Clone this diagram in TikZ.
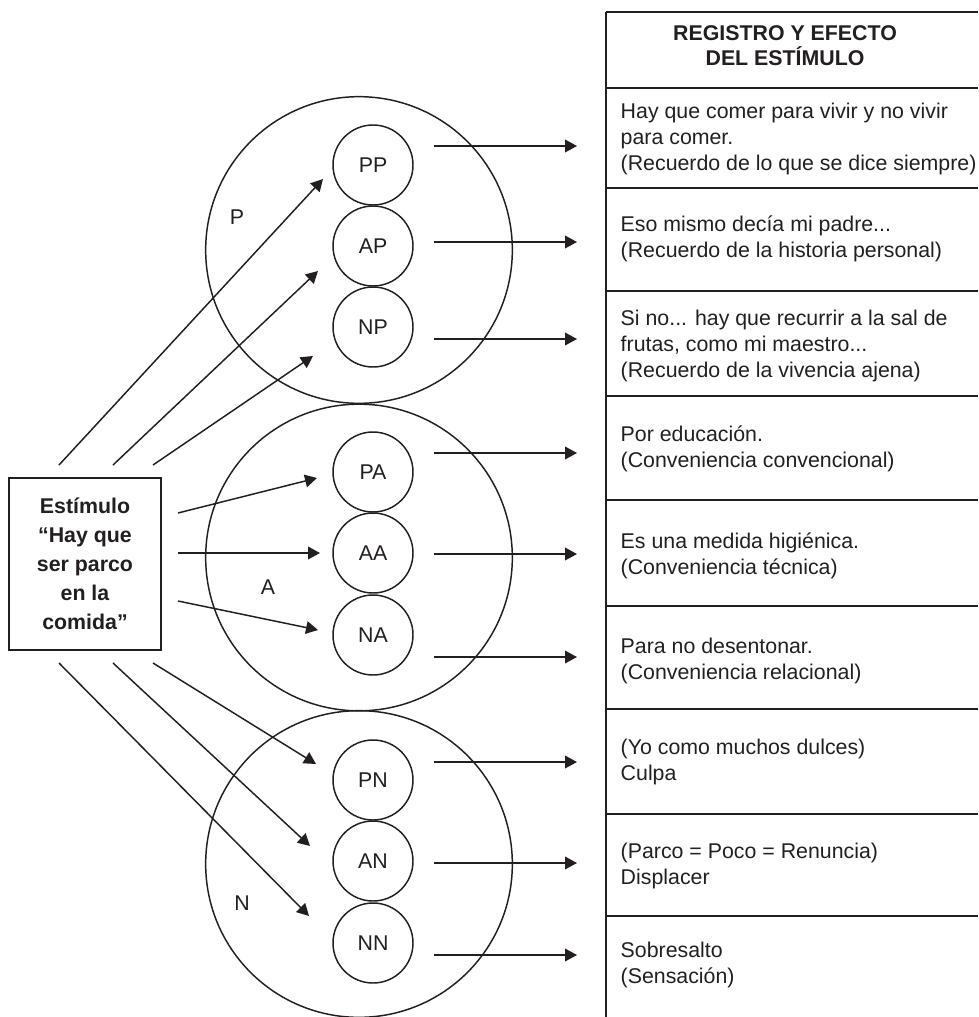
\documentclass[tikz,border=0pt]{standalone}
\usepackage{fontspec}
\setmainfont{Liberation Sans}
\usetikzlibrary{arrows.meta}
\definecolor{ink}{HTML}{231F20}
\begin{document}
\begin{tikzpicture}[x=0.75pt,y=-0.75pt,
  line width=1.1pt,
  arr/.style={-{Triangle[length=9pt,width=9.5pt]},draw=ink,fill=ink,line width=1.1pt},
  group/.style={circle,draw=ink,minimum size=230pt,inner sep=0pt},
  cell/.style={circle,draw=ink,minimum size=60pt,inner sep=0pt,text=ink,
    font=\fontsize{16}{19}\selectfont},
  tag/.style={text=ink,inner sep=0pt,font=\fontsize{16}{19}\selectfont},
  rowtext/.style={anchor=west,align=left,inner sep=0pt,text=ink,
    font=\fontsize{16}{19.5}\selectfont},
  headtext/.style={align=center,inner sep=0pt,text=ink,
    font=\bfseries\fontsize{16}{18.75}\selectfont},
  stimbox/.style={rectangle,draw=ink,minimum width=114pt,minimum height=129pt,
    inner sep=0pt,align=center,text=ink,font=\bfseries\fontsize{16}{21.75}\selectfont},
  rule/.style={draw=ink,line width=1.3pt}
]
\useasboundingbox (0,0) rectangle (978,1017);

% the three groups
\node[group] (gP) at (359,250) {};
\node[group] (gA) at (359,557.5) {};
\node[group] (gN) at (359,864) {};
\node[tag] (lP) at (237,217) {P};
\node[tag] (lA) at (268,587) {A};
\node[tag] (lN) at (242,903) {N};

% the nine cells
\node[cell] (PP) at (373,165) {PP};
\node[cell] (AP) at (373,246) {AP};
\node[cell] (NP) at (373,327) {NP};
\node[cell] (PA) at (373,472) {PA};
\node[cell] (AA) at (373,553) {AA};
\node[cell] (NA) at (373,635) {NA};
\node[cell] (PN) at (373,780) {PN};
\node[cell] (AN) at (373,861) {AN};
\node[cell] (NN) at (373,943) {NN};

% stimulus
\node[stimbox] (stim) at (85,564) {Estímulo\\“Hay que\\ser parco\\en la\\comida”};

% stimulus arrows: start and end points
\coordinate (s1) at (59,465);  \coordinate (e1) at (323,179);
\coordinate (s2) at (113,465); \coordinate (e2) at (318,271);
\coordinate (s3) at (153,465); \coordinate (e3) at (313,356);
\coordinate (s4) at (178,513); \coordinate (e4) at (317,478);
\coordinate (s5) at (178,553); \coordinate (e5) at (320,553);
\coordinate (s6) at (178,601); \coordinate (e6) at (318,630);
\coordinate (s7) at (153,663); \coordinate (e7) at (316,764);
\coordinate (s8) at (113,663); \coordinate (e8) at (310,846);
\coordinate (s9) at (59,663);  \coordinate (e9) at (309,916);
\foreach \i in {1,...,9} \draw[arr] (s\i) -- (e\i);

% table of effects
\draw[rule] (606,12) -- (606,1017);
\foreach \y in {12,88,188,291,396,500,606,709,814,916}
  \draw[rule] (606,\y) -- (978,\y);

\node[headtext] (head) at (785,45.5) {REGISTRO Y EFECTO\\DEL ESTÍMULO};
\node[rowtext] (r1) at (620,139) {Hay que comer para vivir y no vivir\\para comer.\\(Recuerdo de lo que se dice siempre)};
\node[rowtext] (r2) at (620,239) {Eso mismo decía mi padre...\\(Recuerdo de la historia personal)};
\node[rowtext] (r3) at (620,346) {Si no... hay que recurrir a la sal de\\frutas, como mi maestro...\\(Recuerdo de la vivencia ajena)};
\node[rowtext] (r4) at (620,448.5) {Por educación.\\(Conveniencia convencional)};
\node[rowtext] (r5) at (620,556) {Es una medida higiénica.\\(Conveniencia técnica)};
\node[rowtext] (r6) at (620,660.5) {Para no desentonar.\\(Conveniencia relacional)};
\node[rowtext] (r7) at (620,762) {(Yo como muchos dulces)\\Culpa};
\node[rowtext] (r8) at (620,866) {(Parco = Poco = Renuncia)\\Displacer};
\node[rowtext] (r9) at (620,964.5) {Sobresalto\\(Sensación)};

% output arrows towards the table rows
\foreach \n/\y in {1/146,2/242,3/339,4/453,5/554,6/657,7/762,8/863,9/955}{
  \coordinate (o\n) at (434,\y);
  \coordinate (t\n) at (577,\y);
  \draw[arr] (o\n) -- (t\n);
}
\end{tikzpicture}
\end{document}
